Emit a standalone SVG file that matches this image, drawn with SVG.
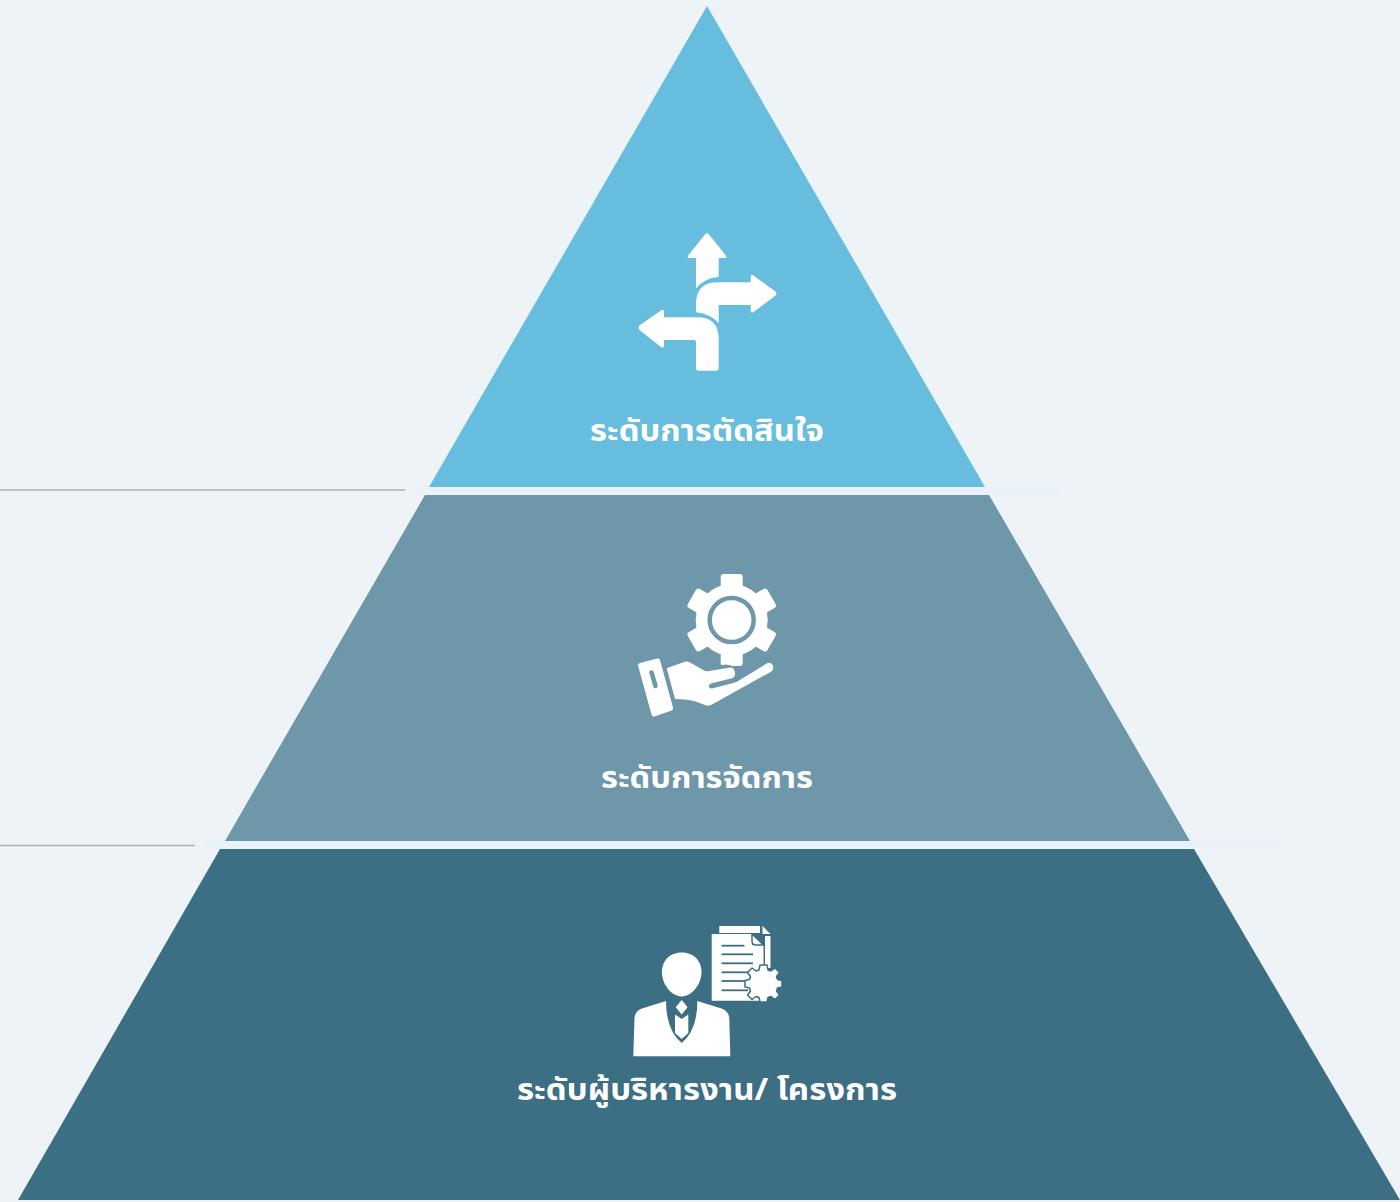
<svg xmlns="http://www.w3.org/2000/svg" width="1400" height="1202" viewBox="0 0 1400 1202">
<style>
.lbl{font-family:"Noto Sans","Noto Sans Thai","Liberation Sans","DejaVu Sans",sans-serif;font-size:30px;font-weight:700;fill:#fff;text-anchor:middle}
.w{fill:#fff}
.rule{stroke:#aeb0b3;stroke-width:1.5;fill:none}
.bar{fill:#e9f1fa}
</style>
<defs>
<path id="tooth" class="w" d="M-11 -30V-43Q-11 -46 -8 -46H8Q11 -46 11 -43V-30Z"/>
</defs>
<rect width="1400" height="1202" fill="#eef3f7"/>
<g id="connectors">
<path class="rule" d="M0 490H405"/>
<path class="rule" d="M0 845.500H195"/>
<rect class="bar" x="417" y="486" width="644" height="9"/>
<rect class="bar" x="203" y="841" width="1078" height="8"/>
</g>
<g id="level-top">
<polygon points="707,6 985,487 429,487" fill="#66bddd"/>
<g class="w">
<path d="M696 258H689.500Q686.500 258 688.500 255L705 234.500Q707 232 709 234.500L725.500 255Q727.500 258 724.500 258H718.700V277Q704 278 696 288.500Z"/>
<path d="M696 312.300V304Q696 282.300 718 282.300H750.700V277Q750.700 273.500 753.500 275.500L775.500 291.500Q777.500 293.300 775.500 295.500L753.500 312Q750.700 314 750.700 310V305H718.700V323.300Q711 314 696 312.300Z"/>
<path d="M664 317.300H697Q718.700 317.300 718.700 339V368Q718.700 370.700 716 370.700H698.500Q696 370.700 696 368V342Q696 340 694 340H664V345Q664 349 661 347L640 330.500Q637 327.700 640 325L661 310.500Q664 308.500 664 312Z"/>
</g>
<text class="lbl" x="707" y="441" textLength="234" lengthAdjust="spacingAndGlyphs">ระดับการตัดสินใจ</text>
</g>
<g id="level-middle">
<polygon points="425,495 989,495 1190,841 225,841" fill="#6e97aa"/>
<g transform="translate(731.700 620)">
<circle r="36" class="w"/>
<use href="#tooth"/>
<use href="#tooth" transform="rotate(60)"/>
<use href="#tooth" transform="rotate(120)"/>
<use href="#tooth" transform="rotate(180)"/>
<use href="#tooth" transform="rotate(240)"/>
<use href="#tooth" transform="rotate(300)"/>
<circle r="22" fill="#fff" stroke="#6e97aa" stroke-width="4.500"/>
</g>
<path d="M714 668Q726 661 737 668L744 672L740 682H712Z" fill="#6e97aa"/>
<path d="M640 663L657 658.500Q659.300 658 660 660L673 707.500Q673.500 710 671 710.800L654.500 716.500Q652.300 717 651.500 714.500L638 665.500Q637.700 663.500 640 663Z" class="w"/>
<path d="M651.500 672.500L655.500 686" stroke="#6e97aa" stroke-width="4.500" stroke-linecap="round" fill="none"/>
<path d="M666.700 668.300L684 662Q687 661 690 662.500L704 670.500Q706 671.700 709 671L729 667.700Q734 667 735 672.500Q735.500 677 732 678.300L711 683.500Q708 685 709 687Q710 689 713 688.300L735 682.500Q737 682 739 680.500L767 663.300Q771 661.500 773 665.500Q774 669.500 771 671.700L712 704.500Q708.300 706.500 705 705L694 701Q686 699 675 699Z" class="w"/>
<text class="lbl" x="707" y="788" textLength="212" lengthAdjust="spacingAndGlyphs">ระดับการจัดการ</text>
</g>
<g id="level-bottom">
<polygon points="220,849 1194,849 1400,1200 18,1200" fill="#3c6e84"/>
<path d="M681.700 952.500C695 952.500 701.500 962 701.500 972C701.500 985 691 996.500 681.700 996.500C672 996.500 661.900 985 661.900 972C661.900 962 668.500 952.500 681.700 952.500Z" class="w"/>
<path d="M666 1001L642 1008.500Q635 1011 634.500 1018L633.300 1056.300H730.300L729.300 1018Q728.500 1011 721.500 1008.500L697.300 1001Q697.500 1030 681.700 1043Q666 1030 666 1001Z" class="w"/>
<path d="M681.700 1000L687.500 1007.300L681.700 1014.500L675.700 1007.300Z" class="w"/>
<path d="M675 1014.500L681.700 1019L688.300 1014.500V1033L681.700 1039L675 1033Z" class="w"/>
<path d="M719.300 926H760V933H719.300Z" class="w"/>
<path d="M762.500 926L770.500 934H762.500Z" class="w"/>
<path d="M765 936H770.500V968H765Z" class="w"/>
<path d="M711.700 934H752V945H763.500V1000.700H711.700Z" class="w"/>
<path d="M752 934V941Q752 945 756 945H763.500L752 934" fill="#fff" stroke="#3c6e84" stroke-width="1.500"/>
<g stroke="#3c6e84" stroke-width="1.800" fill="none">
<path d="M721.500 945.700H744.500"/>
<path d="M721.500 954.300H753"/>
<path d="M721.500 963.300H753"/>
<path d="M721.500 972.300H752"/>
<path d="M721.500 981H747"/>
<path d="M721.500 990.300H748"/>
</g>
<g transform="translate(763.500 983.500)">
<path d="M-3.500 -18.500H3.500L4.500 -13.500L7.500 -12.500L11.500 -15.500L16 -11L13 -7L14 -4L18.500 -3V3.500L14 4.500L13 7.500L16 11.500L11.500 16L7.500 13L4.500 14L3.500 18.500H-3.500L-4.500 14L-7.500 13L-11.500 16L-16 11.500L-13 7.500L-14 4.500L-18.500 3.500V-3L-14 -4L-13 -7L-16 -11L-11.500 -15.500L-7.500 -12.500L-4.500 -13.500Z" fill="#fff" stroke="#3c6e84" stroke-width="1.500" stroke-linejoin="round"/>
</g>
<text class="lbl" x="707" y="1100" textLength="380" lengthAdjust="spacingAndGlyphs">ระดับผู้บริหารงาน/ โครงการ</text>
</g>
</svg>
